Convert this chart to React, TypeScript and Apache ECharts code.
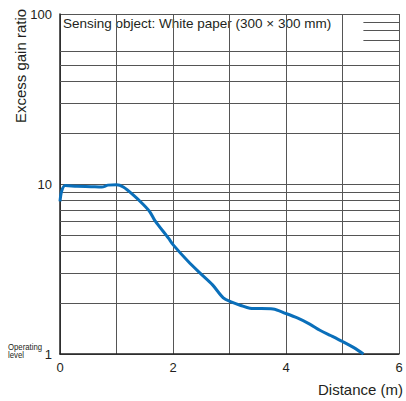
import React, { useEffect, useRef } from "react";
import * as echarts from "echarts";

const distance = [0, 0.03, 0.09, 0.3, 0.55, 0.74, 0.85, 1.0, 1.12, 1.3, 1.47, 1.59, 1.68, 1.92, 2.0, 2.27, 2.48, 2.7, 2.89, 3.04, 3.2, 3.36, 3.77, 4.0, 4.2, 4.42, 4.6, 4.8, 5.01, 5.2, 5.37];
const gainRatio = [7.9, 9.1, 9.8, 9.7, 9.65, 9.6, 9.85, 9.9, 9.6, 8.6, 7.6, 6.86, 6.09, 4.8, 4.4, 3.5, 2.99, 2.55, 2.14, 2.02, 1.93, 1.86, 1.84, 1.73, 1.63, 1.5, 1.38, 1.28, 1.18, 1.09, 1.0];
const fullGridValues = [2, 3, 4, 5, 6, 7, 8, 9, 20, 30, 40, 50, 60];
const partialGridValues = [70, 80, 90];
const partialGridStart = 5.37;
const xTicks = [0, 1, 2, 3, 4, 5, 6];
const yTicks = [1, 10, 100];
const annotation = "Sensing object: White paper (300 \u00d7 300 mm)";
const yName = "Excess gain ratio";
const xName = "Distance (m)";

const FONT = "'Liberation Sans', Arial, Helvetica, sans-serif";
const TXT = "#231f20";
const GRID = "#555555";

export default function App() {
  const ref = useRef<HTMLDivElement>(null);
  useEffect(() => {
    if (!ref.current) return;
    const chart = echarts.init(ref.current, null, { renderer: "svg" });
    const markData: any[] = [];
    fullGridValues.forEach((v) => markData.push({ yAxis: v }));
    partialGridValues.forEach((v) =>
      markData.push([{ coord: [partialGridStart, v] }, { coord: [6, v] }])
    );
    chart.setOption({
      animation: false,
      textStyle: { fontFamily: FONT },
      grid: { left: 60, right: 7, top: 14, bottom: 47, containLabel: false },
      xAxis: {
        type: "value",
        min: xTicks[0],
        max: xTicks[xTicks.length - 1],
        interval: 1,
        axisLine: { show: true, lineStyle: { color: "#222", width: 1.5 } },
        axisTick: { show: false },
        axisLabel: {
          color: TXT,
          fontSize: 13,
          margin: 7,
          fontFamily: FONT,
          formatter: (v: number) => (v % 2 === 0 ? String(v) : ""),
        },
        splitLine: { show: true, lineStyle: { color: GRID, width: 1 } },
      },
      yAxis: {
        type: "log",
        logBase: 10,
        min: yTicks[0],
        max: yTicks[yTicks.length - 1],
        axisLine: { show: true, onZero: false, lineStyle: { color: "#222", width: 1.5 } },
        axisTick: { show: false },
        axisLabel: { color: TXT, fontSize: 13, margin: 8, fontFamily: FONT },
        splitLine: { show: true, lineStyle: { color: GRID, width: 1 } },
        minorTick: { show: false },
        minorSplitLine: { show: false },
      },
      series: [
        {
          type: "line",
          data: distance.map((d, i) => [d, gainRatio[i]]),
          smooth: 0.3,
          showSymbol: false,
          symbol: "none",
          lineStyle: { color: "#0a6fba", width: 3 },
          z: 5,
          markLine: {
            silent: true,
            symbol: "none",
            label: { show: false },
            lineStyle: { color: GRID, width: 1, type: "solid" },
            data: markData,
            z: 1,
          },
        },
      ],
      graphic: [
        {
          type: "text",
          left: 63,
          top: 16,
          style: { text: annotation, fill: TXT, fontSize: 13.5, fontFamily: FONT },
        },
        {
          type: "text",
          x: 20,
          y: 66,
          rotation: Math.PI / 2,
          style: {
            text: yName,
            fill: TXT,
            fontSize: 15,
            fontFamily: FONT,
            align: "center",
            verticalAlign: "middle",
          },
        },
        {
          type: "text",
          x: 403,
          y: 389,
          style: {
            text: xName,
            fill: TXT,
            fontSize: 15,
            fontFamily: FONT,
            align: "right",
            verticalAlign: "middle",
          },
        },
        {
          type: "text",
          x: 8,
          y: 342,
          scaleX: 0.82,
          style: {
            text: "Operating\nlevel",
            fill: TXT,
            fontSize: 9.5,
            lineHeight: 8.5,
            fontFamily: FONT,
            align: "left",
            verticalAlign: "top",
          },
        },
      ],
    });
    return () => chart.dispose();
  }, []);
  return <div ref={ref} style={{ width: 406, height: 401, position: "absolute", left: 0, top: 0 }} />;
}
